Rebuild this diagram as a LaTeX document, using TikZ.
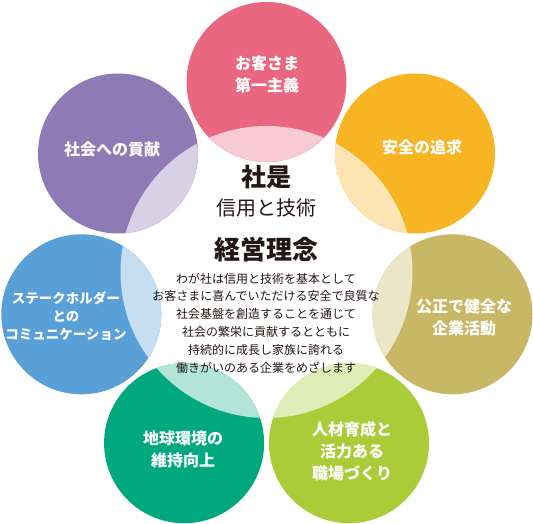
\documentclass[tikz,border=0pt]{standalone}
\usepackage{fontspec}
\usepackage{xcolor}
\usepackage{tikz}

\newfontfamily\jpfont{Noto Sans CJK JP}

\definecolor{rosa}{RGB}{234,103,128}
\definecolor{dai}{RGB}{247,181,35}
\definecolor{kin}{RGB}{200,183,100}
\definecolor{moegi}{RGB}{170,204,56}
\definecolor{midori}{RGB}{0,168,127}
\definecolor{ao}{RGB}{89,160,216}
\definecolor{murasaki}{RGB}{143,122,181}
\definecolor{sumi}{RGB}{35,24,21}

\tikzset{
  theme/.style={circle, minimum size=160pt, inner sep=0pt},
  themelabel/.style={text=white, align=center,
    font=\jpfont\bfseries\fontsize{16}{22}\selectfont},
  midtext/.style={text=sumi, align=center, inner sep=0pt}
}

\begin{document}
\begin{tikzpicture}[x=1pt, y=1pt]
  \useasboundingbox (0,0) rectangle (533,523);
  \coordinate (o) at (266.5,251);

  \node (kyaku) at (266.5,441) [theme, fill=rosa] {};
  \node (anzen) at (415,369.5) [theme, fill=dai] {};
  \node (kosei) at (452.5,208.7) [theme, fill=kin] {};
  \node (jinzai) at (349,79.8) [theme, fill=moegi] {};
  \node (chikyu) at (184.1,79.8) [theme, fill=midori] {};
  \node (stake) at (81.3,208.7) [theme, fill=ao] {};
  \node (shakai) at (118,369.5) [theme, fill=murasaki] {};

  % where each circle meets the centre
  \begin{scope}
    \clip (o) circle (146pt);
    \fill[rosa!35] (kyaku.center) circle (80pt);
    \fill[dai!35] (anzen.center) circle (80pt);
    \fill[kin!35] (kosei.center) circle (80pt);
    \fill[moegi!35] (jinzai.center) circle (80pt);
    \fill[midori!30] (chikyu.center) circle (80pt);
    \fill[ao!35] (stake.center) circle (80pt);
    \fill[murasaki!35] (shakai.center) circle (80pt);
  \end{scope}

  \node (kyakut) at (267,449) [themelabel] {お客さま\\第一主義};
  \node (anzent) at (422,376) [themelabel] {安全の追求};
  \node (koseit) at (464,206) [themelabel] {公正で健全な\\企業活動};
  \node (jinzait) at (352,72) [themelabel] {人材育成と\\活力ある\\職場づくり};
  \node (chikyut) at (183,74) [themelabel] {地球環境の\\維持向上};
  \node (staket) at (66,207) [themelabel, font=\jpfont\bfseries\fontsize{13.5}{18}\selectfont] {ステークホルダー\\との\\コミュニケーション};
  \node (shakait) at (112,374) [themelabel] {社会への貢献};

  \node (shaze) at (266,346) [midtext, font=\jpfont\bfseries\fontsize{25}{28}\selectfont] {社是};
  \node (shinyo) at (266,315) [midtext, font=\jpfont\fontsize{20}{23}\selectfont] {信用と技術};
  \node (keiei) at (266,273) [midtext, font=\jpfont\bfseries\fontsize{26}{29}\selectfont] {経営理念};
  \node (rinen) at (266,200) [midtext, font=\jpfont\fontsize{12}{17.8}\selectfont]
    {わが社は信用と技術を基本として\\
     お客さまに喜んでいただける安全で良質な\\
     社会基盤を創造することを通じて\\
     社会の繁栄に貢献するとともに\\
     持続的に成長し家族に誇れる\\
     働きがいのある企業をめざします};
\end{tikzpicture}
\end{document}
